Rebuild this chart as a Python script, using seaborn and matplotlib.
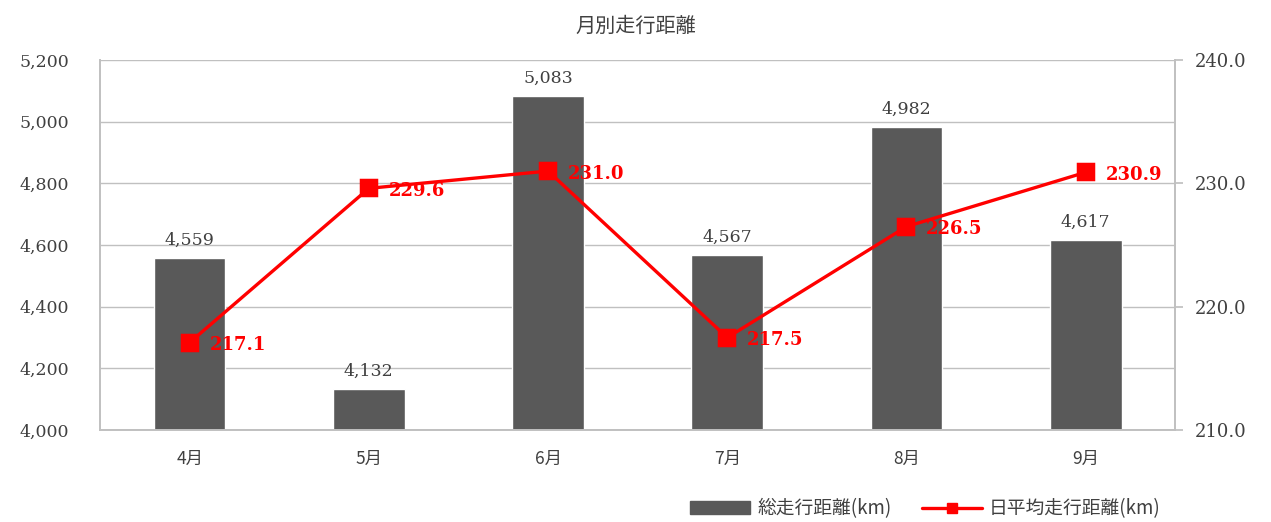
import seaborn as sns
import matplotlib.pyplot as plt
from matplotlib.patches import Patch
from matplotlib.lines import Line2D

months = ["4月", "5月", "6月", "7月", "8月", "9月"]
total_km = [4559, 4132, 5083, 4567, 4982, 4617]
daily_avg_km = [217.1, 229.6, 231.0, 217.5, 226.5, 230.9]

sns.set_theme(style="white")
plt.rcParams["font.family"] = ["Noto Sans CJK JP", "DejaVu Sans"]
num_font = ["DejaVu Serif"]
txt_gray = "#404040"

fig = plt.figure(figsize=(12.71, 5.22), dpi=100)
ax = fig.add_axes([0.0787, 0.176, 0.846, 0.709])

sns.barplot(x=months, y=total_km, color="#595959", saturation=1, width=0.4, ax=ax)
ax.set_ylim(4000, 5200)
ax.set_yticks(range(4000, 5201, 200))
ax.set_yticklabels([f"{v:,}" for v in range(4000, 5201, 200)],
                   family=num_font, fontsize=12.5, color=txt_gray)
ax.tick_params(axis="x", labelsize=12.5, colors=txt_gray, length=0, pad=14)
ax.tick_params(axis="y", length=0, pad=22)
ax.yaxis.grid(True, color="#c0c0c0", linewidth=1)
ax.set_axisbelow(True)
ax.spines["top"].set_visible(False)
for s in ["left", "right", "bottom"]:
    ax.spines[s].set_color("#c0c0c0")

for bar, v in zip(ax.patches, total_km):
    ax.text(bar.get_x() + bar.get_width() / 2, v + 30, f"{v:,}",
            ha="center", va="bottom", family=num_font, fontsize=12.5, color=txt_gray)

ax2 = ax.twinx()
sns.pointplot(x=months, y=daily_avg_km, color="red", markers="s",
              markersize=11, linewidth=2.4, ax=ax2)
ax2.set_ylim(210, 240)
ax2.set_yticks([210, 220, 230, 240])
ax2.set_yticklabels([f"{v:.1f}" for v in [210, 220, 230, 240]],
                    family=num_font, fontsize=13, color=txt_gray)
ax2.tick_params(axis="y", length=6, color="#c0c0c0", pad=8, right=True)
ax2.set_ylabel("")
ax2.spines["top"].set_visible(False)
for s in ["left", "right", "bottom"]:
    ax2.spines[s].set_color("#c0c0c0")

for i, v in enumerate(daily_avg_km):
    ax2.text(i + 0.11, v - 0.2, f"{v:.1f}", ha="left", va="center",
             family=num_font, fontsize=13, fontweight="bold", color="red")

fig.text(0.5, 0.95, "月別走行距離", ha="center", va="center",
         fontsize=14.5, color=txt_gray)

handles = [
    Patch(color="#595959", label="総走行距離(km)"),
    Line2D([0], [0], color="red", linewidth=2.4, marker="s", markersize=7,
           label="日平均走行距離(km)"),
]
fig.legend(handles=handles, loc="center", bbox_to_anchor=(0.728, 0.025),
           ncol=2, frameon=False, fontsize=13.5, handlelength=3.2,
           columnspacing=1.6, handletextpad=0.4, labelcolor=txt_gray)

fig.savefig("out.png", dpi=100)
